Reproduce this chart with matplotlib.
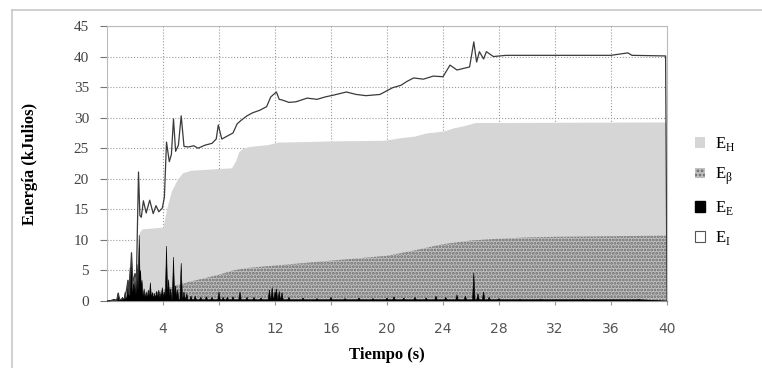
import matplotlib
matplotlib.use("Agg")
import matplotlib.pyplot as plt
from matplotlib.patches import Patch
from matplotlib.lines import Line2D
import numpy as np

plt.rcParams['mathtext.fontset'] = 'custom'
plt.rcParams['mathtext.rm'] = 'Liberation Serif'
plt.rcParams['hatch.linewidth'] = 1.4

# Energia total (E_I), kJ
total_t = [0, 0.7, 0.8, 0.9, 1.3, 1.5, 1.6, 1.75, 1.85, 2.0, 2.1, 2.25, 2.35, 2.45,
           2.6, 2.8, 3.05, 3.3, 3.5, 3.7, 3.95, 4.1, 4.25, 4.45, 4.6, 4.75, 4.9,
           5.1, 5.3, 5.5, 5.8, 6.2, 6.5, 7.0, 7.5, 7.8, 7.95, 8.2, 8.6, 9.0, 9.3,
           9.6, 10.0, 10.4, 10.9, 11.4, 11.7, 12.1, 12.3, 12.5, 13.0, 13.5, 14.3,
           15.0, 15.6, 16.2, 17.1, 17.8, 18.5, 19.5, 20.4, 21.0, 21.4, 21.9, 22.6,
           23.3, 24.0, 24.5, 25.0, 25.9, 26.2, 26.4, 26.6, 26.9, 27.1, 27.6, 28.5,
           30, 32, 34, 36, 37.2, 37.5, 39.9, 40.0]
total_v = [0, 0.1, 1.3, 0.2, 0.5, 3.4, 1.0, 7.9, 3.0, 4.5, 3.5, 21.1, 14.0, 13.7,
           16.4, 14.4, 16.5, 14.3, 15.6, 14.6, 15.2, 17.0, 26.0, 22.8, 24.0, 29.8, 24.5,
           25.5, 30.3, 25.3, 25.2, 25.4, 25.0, 25.5, 25.8, 26.5, 28.8, 26.5, 27.0, 27.5, 29.0,
           29.6, 30.3, 30.8, 31.2, 31.8, 33.4, 34.2, 33.0, 32.9, 32.5, 32.6, 33.2,
           33.0, 33.4, 33.7, 34.2, 33.8, 33.6, 33.8, 34.9, 35.3, 35.9, 36.5, 36.3,
           36.8, 36.7, 38.6, 37.8, 38.3, 42.4, 39.1, 40.8, 39.6, 40.8, 40.0, 40.2,
           40.2, 40.2, 40.2, 40.2, 40.6, 40.2, 40.1, 0]

# tope acumulado E_H (sobre E_beta)
eh_t = [0, 2.1, 2.3, 2.5, 4.0, 4.3, 4.6, 5.0, 5.4, 6.0, 8.9, 9.2, 9.4, 9.7, 10.2,
        11.5, 12.2, 14.4, 16, 19.8, 20.9, 22.0, 22.8, 24.0, 24.7, 25.5, 26.3, 40]
eh_v = [0, 0.5, 11.2, 11.8, 12.1, 15.5, 18.0, 19.8, 21.0, 21.4, 21.8, 23.0, 24.4,
        25.0, 25.3, 25.6, 26.0, 26.1, 26.2, 26.3, 26.7, 27.0, 27.5, 27.8, 28.3,
        28.7, 29.2, 29.3]

# E_beta
eb_t = [0, 1.5, 2, 3, 4, 5, 6, 8, 9, 10, 12, 14, 16, 18, 20, 22, 24, 26, 28,
        30, 32, 36, 40]
eb_v = [0, 0.1, 0.5, 1.0, 1.8, 2.6, 3.2, 4.3, 5.0, 5.4, 5.8, 6.2, 6.6, 7.0, 7.4,
        8.3, 9.3, 9.9, 10.2, 10.4, 10.5, 10.6, 10.7]

# E_E (picos)
ee_t = [0.5, 0.8, 1.1, 1.3, 1.5, 1.65, 1.75, 1.9, 2.0, 2.15, 2.3, 2.4, 2.5, 2.65,
        2.8, 2.95, 3.1, 3.25, 3.4, 3.55, 3.7, 3.85, 3.95, 4.1, 4.25, 4.4, 4.55,
        4.75, 4.9, 5.05, 5.3, 5.5, 5.7, 6.0, 6.3, 6.7, 7.1, 7.5, 8.0, 8.3, 8.6,
        9.0, 9.5, 10.0, 10.5, 11.0, 11.6, 11.8, 12.0, 12.1, 12.3, 12.5, 13.0,
        14.0, 15.0, 16.0, 17.0, 18.0, 19.0, 20.0, 20.5, 21.2, 22.0, 22.8, 23.5,
        24.2, 25.0, 25.6, 26.2, 26.5, 26.9, 27.3, 28.0, 29.5, 31.0, 34.0, 38.0]
ee_v = [0.3, 1.3, 0.6, 1.5, 3.4, 5.5, 7.9, 3.0, 4.0, 6.0, 10.8, 5.0, 3.4, 2.0,
        1.5, 1.8, 3.0, 1.4, 1.2, 1.6, 1.8, 1.2, 2.2, 1.5, 9.0, 3.5, 2.0,
        7.2, 2.5, 1.8, 6.2, 1.5, 1.2, 0.8, 0.8, 0.6, 0.7, 0.6, 1.5, 0.6, 0.6,
        0.7, 1.5, 0.6, 0.6, 0.5, 1.8, 2.2, 1.5, 2.0, 1.6, 1.4, 0.6,
        0.5, 0.4, 0.6, 0.4, 0.5, 0.4, 0.5, 0.7, 0.5, 0.6, 0.5, 0.8,
        0.6, 1.0, 0.8, 4.6, 1.2, 1.5, 0.6, 0.4, 0.3, 0.3, 0.3, 0.3]

fig = plt.figure(figsize=(7.62, 3.68), dpi=100)
ax = fig.add_axes([107 / 762, 1 - 301 / 368, 560 / 762, 275 / 368])

# picos de E_E como triangulos estrechos
spk_x, spk_y = [0], [0]
for t, v in zip(ee_t, ee_v):
    spk_x += [t - 0.09, t, t + 0.09]
    spk_y += [0.2, v, 0.2]
spk_x.append(40)
spk_y.append(0)

ax.fill_between(eh_t, eh_v, color='#d6d6d6', lw=0, zorder=3)
ax.fill_between(eb_t, eb_v, facecolor='#c2c2c2', edgecolor='#6a6a6a',
                hatch='.....', lw=0, zorder=4)
ax.fill(spk_x, spk_y, color='black', lw=0.4, zorder=5)
ax.plot(total_t, total_v, color='#3a3a3a', lw=0.9, zorder=6)

ax.set_xlim(0, 40)
ax.set_ylim(0, 45)
ax.set_xticks(np.arange(4, 41, 4))
ax.set_yticks(np.arange(0, 46, 5))
ax.grid(True, color='#9a9a9a', linestyle=':', lw=0.8, zorder=0)
ax.set_axisbelow(True)

for s in ['top', 'right', 'left']:
    ax.spines[s].set_color('#bbbbbb')
ax.spines['bottom'].set_color('#555555')

ax.tick_params(axis='y', length=5, color='#777777', labelsize=11, pad=8)
ax.tick_params(axis='x', length=3, color='#999999', labelsize=10, pad=12,
               labelcolor='#555555')
for lab in ax.get_yticklabels():
    lab.set_fontfamily('Liberation Serif')
    lab.set_color('#444444')
for lab in ax.get_xticklabels():
    lab.set_fontfamily('DejaVu Sans')

ax.set_xlabel('Tiempo (s)', fontfamily='Liberation Serif', fontweight='bold',
              fontsize=12, labelpad=8)
ax.set_ylabel('Energía (kJulios)', fontfamily='Liberation Serif',
              fontweight='bold', fontsize=12, labelpad=26)

handles = [
    Patch(facecolor='#d6d6d6', edgecolor='none'),
    Patch(facecolor='#c2c2c2', edgecolor='#6a6a6a', hatch='....', lw=0),
    Patch(facecolor='black', edgecolor='black'),
    Patch(facecolor='white', edgecolor='#555555', lw=0.8),
]
labels = [r'E$_{\mathrm{H}}$', r'E$_{\mathrm{β}}$', r'E$_{\mathrm{E}}$', r'E$_{\mathrm{I}}$']
leg = fig.legend(handles, labels, loc='center left', bbox_to_anchor=(0.892, 0.48),
                 frameon=False, handlelength=0.6, handleheight=0.6,
                 labelspacing=0.74, handletextpad=0.6,
                 prop={'family': 'Liberation Serif', 'size': 12})

# marco exterior
fig.add_artist(Line2D([12 / 762, 1], [1 - 10 / 368, 1 - 10 / 368],
                      color='#c8c8c8', lw=1.2))
fig.add_artist(Line2D([12 / 762, 12 / 762], [0, 1 - 10 / 368],
                      color='#c8c8c8', lw=1.2))

fig.savefig('out.png', dpi=100)
